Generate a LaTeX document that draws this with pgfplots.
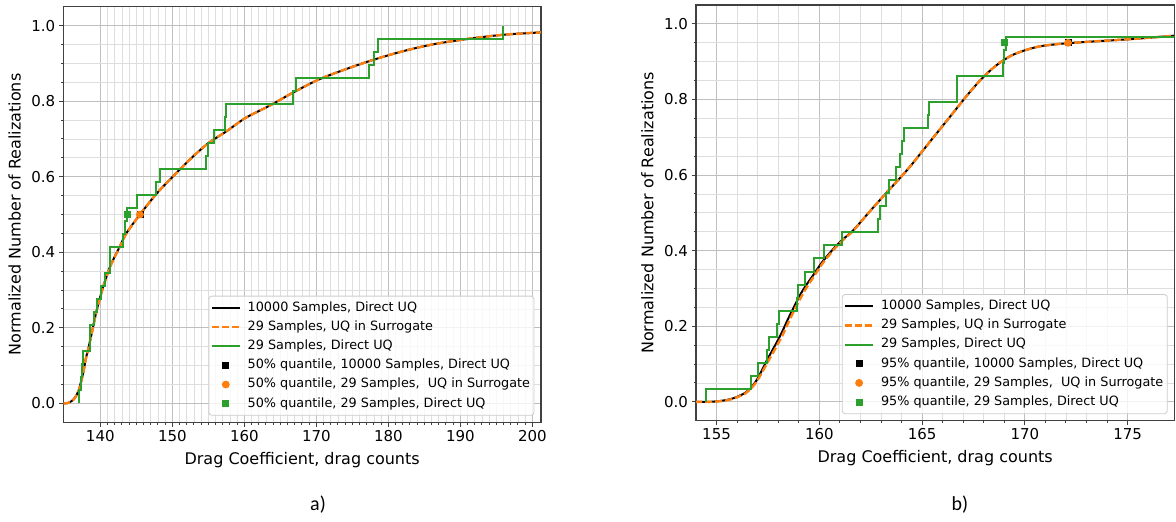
\documentclass[border=0pt]{standalone}
\usepackage{fontspec}
\setmainfont{DejaVu Sans}
\newfontfamily\carlito{Carlito}
\usepackage{pgfplots}
\usepackage{pgfplotstable}
\pgfplotsset{compat=1.18}
\definecolor{mplorange}{HTML}{FF7F0E}
\definecolor{mplgreen}{HTML}{2CA02C}

% ---------- left panel (a) ----------
\pgfplotstableread{
x y
134.86 0
135.5 0.001
136.0 0.006
136.5 0.016
137.0 0.035
137.6 0.079
138.0 0.120
138.3 0.142
138.8 0.185
139.5 0.247
140.4 0.309
141.4 0.364
142.7 0.415
143.6 0.450
145.5 0.500
147.9 0.557
150.1 0.601
152.4 0.645
154.95 0.688
157.5 0.720
160.2 0.756
163.5 0.788
166.7 0.822
170.3 0.857
174.0 0.884
178.0 0.910
182.0 0.932
186.1 0.950
191.1 0.965
196.1 0.976
201.2 0.982
}\leftref

\pgfplotstableread{
x y
134.86 0
135.5 0.001
136.0 0.005
136.5 0.015
137.0 0.034
137.6 0.078
138.0 0.119
138.3 0.141
138.8 0.184
139.5 0.246
140.4 0.308
141.4 0.363
142.7 0.414
143.6 0.449
145.5 0.500
147.9 0.557
150.1 0.601
152.4 0.645
154.95 0.688
157.5 0.720
160.2 0.756
163.5 0.788
166.7 0.822
170.3 0.857
174.0 0.884
178.0 0.910
182.0 0.932
186.1 0.950
191.1 0.965
196.1 0.976
201.2 0.982
}\leftsur

\pgfplotstableread{
x y
137.08 0
137.35 0.0345
137.50 0.0690
137.55 0.1034
138.50 0.1379
138.60 0.1724
139.10 0.2069
139.50 0.2414
140.10 0.2759
140.60 0.3103
141.30 0.3448
141.40 0.3793
143.20 0.4138
143.45 0.4483
143.75 0.4828
145.10 0.5172
147.80 0.5517
148.30 0.5862
154.65 0.6207
154.95 0.6552
155.80 0.6897
157.35 0.7241
157.50 0.7586
166.70 0.7931
167.20 0.8276
177.30 0.8621
178.00 0.8966
178.60 0.9310
195.95 0.9655
195.95 1.0
}\leftdir

% ---------- right panel (b) ----------
\pgfplotstableread{
x y
153.96 0
154.7 0.0
155.4 0.004
155.9 0.011
156.4 0.024
156.65 0.035
157.0 0.062
157.5 0.115
158.07 0.172
158.6 0.233
159.15 0.291
159.7 0.335
160.2 0.374
160.93 0.419
161.65 0.454
162.36 0.498
163.08 0.542
163.6 0.573
164.33 0.617
165.04 0.665
165.76 0.714
166.47 0.762
167.19 0.811
167.9 0.855
168.6 0.890
169.33 0.916
170.05 0.931
170.76 0.941
171.66 0.947
172.1 0.949
173.45 0.954
175.23 0.960
177.3 0.969
}\rightref

\pgfplotstableread{
x y
153.96 0
154.7 0.0
155.4 0.003
155.9 0.010
156.4 0.022
156.65 0.033
157.0 0.058
157.55 0.111
158.15 0.170
158.68 0.231
159.23 0.289
159.76 0.334
160.25 0.373
160.96 0.418
161.67 0.454
162.36 0.498
163.08 0.542
163.6 0.573
164.33 0.617
165.04 0.665
165.76 0.714
166.47 0.762
167.19 0.811
167.9 0.855
168.6 0.890
169.33 0.916
170.05 0.931
170.76 0.941
171.66 0.947
172.1 0.949
173.45 0.954
175.23 0.960
177.3 0.969
}\rightsur

\pgfplotstableread{
x y
154.49 0
156.66 0.0345
157.03 0.0690
157.44 0.1034
157.57 0.1379
157.96 0.1724
158.05 0.2069
158.90 0.2414
158.98 0.2759
159.30 0.3103
159.76 0.3448
160.23 0.3793
161.09 0.4138
162.85 0.4483
162.94 0.4828
163.22 0.5172
163.40 0.5517
163.72 0.5862
163.94 0.6207
164.00 0.6552
164.10 0.6897
165.28 0.7241
165.35 0.7586
166.69 0.7931
166.72 0.8276
168.94 0.8621
168.98 0.8966
169.07 0.9310
178.50 0.9655
178.50 1.0
}\rightdir

\pgfplotsset{
  cdfaxis/.style={
    scale only axis,
    ymin=-0.05, ymax=1.05,
    ytick={0,0.2,0.4,0.6,0.8,1.0},
    minor y tick num=3,
    yticklabel style={/pgf/number format/.cd, fixed, fixed zerofill, precision=1},
    /pgf/number format/assume math mode=true,
    tick align=outside,
    tick pos=left,
    major tick length=2.15pt,
    minor tick length=1.25pt,
    every tick/.style={black!75, line width=0.5pt},
    axis line style={black!75, line width=0.6pt},
    grid=both,
    major grid style={black!25, line width=0.5pt},
    minor grid style={black!13, line width=0.4pt},
    tick label style={font=\fontsize{7.5}{9}\selectfont, inner sep=1.7pt},
    label style={font=\fontsize{8}{9.6}\selectfont},
    xlabel={Drag Coefficient, drag counts},
    ylabel={Normalized Number of Realizations},
    legend cell align=left,
    legend style={at={(1,0)}, anchor=south east, xshift=-3.3pt, yshift=3.3pt,
      font=\fontsize{6.4}{7.7}\selectfont,
      draw=black!20, fill=white, fill opacity=0.8, text opacity=1, draw opacity=1,
      rounded corners=1.5pt, inner sep=1pt, row sep=0pt, column sep=2.5pt,
      nodes={inner ysep=1.6pt, inner xsep=1pt, text height=4.9pt, text depth=1.5pt}},
    legend image code/.code={\draw[##1,opacity=1] (0pt,0pt) -- (13.7pt,0pt);},
  },
  markleg/.style={legend image code/.code={\draw[##1,opacity=1] plot coordinates {(6.85pt,0pt)};}},
  refline/.style={black, line width=1pt, smooth},
  surline/.style={mplorange, line width=1.2pt, dash pattern=on 3.5pt off 1.5pt, smooth},
  dirline/.style={mplgreen, line width=1pt, const plot mark right},
}

\begin{document}
\begin{tikzpicture}
\path[use as bounding box] (0pt,0pt) rectangle (588pt,-260.5pt);

\begin{axis}[cdfaxis,
  at={(31.65pt,-211.15pt)}, anchor=south west,
  width=238.85pt, height=207.8pt,
  xmin=134.86, xmax=201.2,
  xtick={140,150,160,170,180,190,200}, minor x tick num=9]
\addplot[refline] table {\leftref};
\addlegendentry{10000 Samples, Direct UQ}
\addplot[surline] table {\leftsur};
\addlegendentry{29 Samples, UQ in Surrogate}
\addplot[dirline] table {\leftdir};
\addlegendentry{29 Samples, Direct UQ}
\addplot[only marks, mark=square*, mark size=1.5pt, black, markleg] coordinates {(145.5,0.5)};
\addlegendentry{50\% quantile, 10000 Samples, Direct UQ}
\addplot[only marks, mark=*, mark size=1.75pt, mplorange, markleg] coordinates {(145.5,0.5)};
\addlegendentry{50\% quantile, 29 Samples,\ \ UQ in Surrogate}
\addplot[only marks, mark=square*, mark size=1.5pt, mplgreen, markleg] coordinates {(143.75,0.5)};
\addlegendentry{50\% quantile, 29 Samples, Direct UQ}
\end{axis}

\begin{axis}[cdfaxis,
  at={(348pt,-210.35pt)}, anchor=south west,
  width=239.15pt, height=207.85pt,
  xmin=154.0, xmax=177.27,
  xtick={155,160,165,170,175}, minor x tick num=4]
\addplot[refline] table {\rightref};
\addlegendentry{10000 Samples, Direct UQ}
\addplot[surline] table {\rightsur};
\addlegendentry{29 Samples, UQ in Surrogate}
\addplot[dirline] table {\rightdir};
\addlegendentry{29 Samples, Direct UQ}
\addplot[only marks, mark=square*, mark size=1.5pt, black, markleg] coordinates {(172.1,0.95)};
\addlegendentry{95\% quantile, 10000 Samples, Direct UQ}
\addplot[only marks, mark=*, mark size=1.75pt, mplorange, markleg] coordinates {(172.1,0.95)};
\addlegendentry{95\% quantile, 29 Samples,\ \ UQ in Surrogate}
\addplot[only marks, mark=square*, mark size=1.5pt, mplgreen, markleg] coordinates {(169.0,0.95)};
\addlegendentry{95\% quantile, 29 Samples, Direct UQ}
\end{axis}

\node[font=\carlito\fontsize{10}{12}\selectfont] at (159pt,-252.5pt) {a)};
\node[font=\carlito\fontsize{10}{12}\selectfont] at (480pt,-252.5pt) {b)};
\end{tikzpicture}
\end{document}
